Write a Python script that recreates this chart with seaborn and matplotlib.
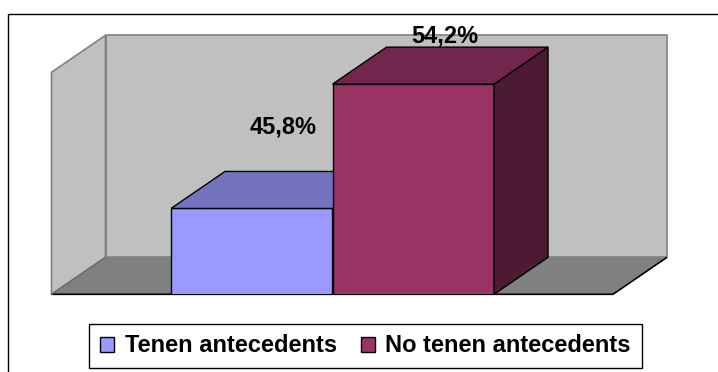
import matplotlib
matplotlib.use("Agg")
import matplotlib.pyplot as plt
import seaborn as sns
import pandas as pd
from matplotlib.patches import Polygon, Rectangle, Patch

# ---- data ----
categories = ["Tenen antecedents", "No tenen antecedents"]
values = [45.8, 54.2]
value_labels = ["45,8%", "54,2%"]
front_colors = ["#9999FF", "#993366"]
top_colors = ["#7373BF", "#73264D"]
side_colors = ["#4D4D80", "#4D1A33"]
y_min, y_max = 40, 55

plt.rcParams['font.family'] = ['Liberation Sans', 'DejaVu Sans']

W, H = 718, 372
fig = plt.figure(figsize=(W / 100, H / 100), dpi=100)
fig.patch.set_facecolor("white")

# axes rectangle in pixels (front floor left/bottom .. back wall right/top)
L_PX, R_PX, B_PX, T_PX = 51.5, 667, 294.3, 35.3
ax = fig.add_axes([L_PX / W, 1 - B_PX / H, (R_PX - L_PX) / W, (B_PX - T_PX) / H])
ax.set_facecolor("none")

df = pd.DataFrame({"cat": categories, "val": values})
sns.barplot(data=df, x="cat", y="val", hue="cat", palette=front_colors,
            saturation=1, width=1.0, edgecolor="black", linewidth=1,
            legend=False, ax=ax, zorder=3)

xl, xr = -1.24, 2.571
DX_PX, DY_PX = 54, 37
y_top = y_min + (B_PX - T_PX) / 14.8
ax.set_xlim(xl, xr)
ax.set_ylim(y_min, y_top)
dx = DX_PX * (xr - xl) / (R_PX - L_PX)
dy = DY_PX * (y_top - y_min) / (B_PX - T_PX)
xrf = xr - dx  # front right of floor

for s in ax.spines.values():
    s.set_visible(False)
ax.set_xticks([])
ax.set_yticks([])
ax.set_xlabel("")
ax.set_ylabel("")

wall_c, floor_c, edge_c = "#C0C0C0", "#808080", "#808080"
# back wall
ax.add_patch(Polygon([(xl + dx, y_min + dy), (xrf + dx, y_min + dy),
                      (xrf + dx, y_max + dy), (xl + dx, y_max + dy)],
                     closed=True, fc=wall_c, ec=edge_c, lw=1.2, zorder=1, clip_on=False))
# left wall
ax.add_patch(Polygon([(xl, y_min), (xl + dx, y_min + dy), (xl + dx, y_max + dy), (xl, y_max)],
                     closed=True, fc=wall_c, ec=edge_c, lw=1.2, zorder=1, clip_on=False))
# floor
ax.add_patch(Polygon([(xl, y_min), (xrf, y_min), (xrf + dx, y_min + dy), (xl + dx, y_min + dy)],
                     closed=True, fc=floor_c, ec="none", zorder=1.5, clip_on=False))
ax.plot([xl, xrf, xrf + dx], [y_min, y_min, y_min + dy], color="black", lw=1.2,
        zorder=1.6, clip_on=False, solid_capstyle="butt")
ax.plot([xl, xl + dx], [y_min, y_min + dy], color="#6a6a6a", lw=1.0, zorder=1.6, clip_on=False)

# 3D faces of bars
for i, (v, tc, sc) in enumerate(zip(values, top_colors, side_colors)):
    z = 3 + 2 * i
    ax.patches[i].set_zorder(z)
    x0, x1 = i - 0.5, i + 0.5
    ax.add_patch(Polygon([(x1, y_min), (x1, v), (x1 + dx, v + dy), (x1 + dx, y_min + dy)],
                         closed=True, fc=sc, ec="black", lw=1, zorder=z, clip_on=False))
    ax.add_patch(Polygon([(x0, v), (x1, v), (x1 + dx, v + dy), (x0 + dx, v + dy)],
                         closed=True, fc=tc, ec="black", lw=1, zorder=z, clip_on=False))

# value labels
label_offsets = [(2.9, 32.0), (3.2, 8.3)]
for i, (v, t) in enumerate(zip(values, value_labels)):
    ax.annotate(t, xy=(i + dx / 2, v + dy), xytext=label_offsets[i],
                textcoords="offset points", ha="center", va="center",
                fontsize=17, fontweight="bold", color="black",
                annotation_clip=False, zorder=10)

# legend
handles = [Patch(facecolor=c, edgecolor="black", linewidth=1) for c in front_colors]
leg = fig.legend(handles, categories, loc="center",
                 bbox_to_anchor=(365.5 / W, 1 - 346 / H), ncol=2,
                 frameon=True, fancybox=False, edgecolor="black", framealpha=1,
                 prop=dict(weight="bold", size=17), handlelength=0.6,
                 handleheight=0.6, handletextpad=0.45, columnspacing=1.0,
                 borderpad=0.45, borderaxespad=0)
leg.get_frame().set_linewidth(1)

# outer chart-area border (runs off right and bottom)
fig.add_artist(Rectangle((8 / W, -0.2), 2, 1.2 - 14 / H, transform=fig.transFigure,
                         fill=False, ec="black", lw=1))

fig.savefig("out.png", dpi=100)
